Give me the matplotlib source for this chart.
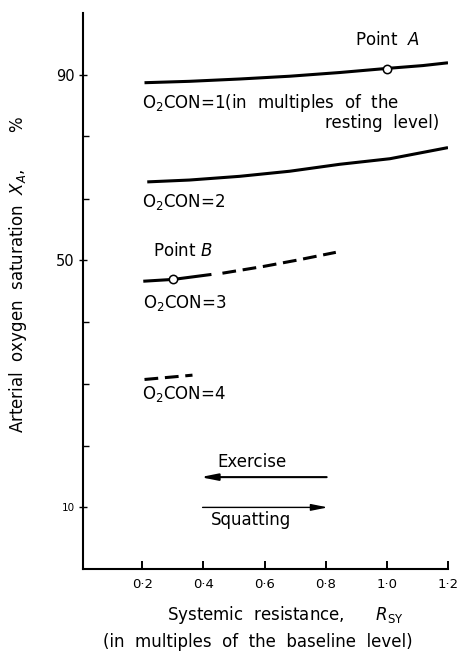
import matplotlib
matplotlib.use("Agg")
import matplotlib.pyplot as plt
import numpy as np

# curves: x = systemic resistance, y = arterial O2 saturation (%)
con1_x = [0.207, 0.354, 0.518, 0.682, 0.846, 1.003, 1.118, 1.2]
con1_y = [88.3, 88.6, 89.1, 89.7, 90.5, 91.4, 92.0, 92.6]
con2_x = [0.216, 0.354, 0.518, 0.682, 0.846, 1.01, 1.2]
con2_y = [66.9, 67.3, 68.1, 69.2, 70.7, 71.9, 74.3]
con3_solid_x = [0.203, 0.302, 0.426]
con3_solid_y = [46.6, 46.9, 47.7]
con3_dash_x = [0.462, 0.597, 0.705, 0.833]
con3_dash_y = [47.9, 49.0, 50.0, 51.7]
con4_x = [0.207, 0.364]
con4_y = [30.7, 31.4]
point_a = (1.0, 91.3)
point_b = (0.30, 46.9)

x_ticks = [0.2, 0.4, 0.6, 0.8, 1.0, 1.2]
x_tick_labels = ["0·2", "0·4", "0·6", "0·8", "1·0", "1·2"]
y_major = [10, 50, 90]
y_minor = [20, 30, 40, 63.3, 76.7]


# the printed axis is not linear: 10 units per tick below 50, 40/3 above
def _fwd(v):
    v = np.asarray(v, dtype=float)
    return np.where(v <= 50, v / 10.0, 5 + (v - 50) * 3.0 / 40.0)


def _inv(p):
    p = np.asarray(p, dtype=float)
    return np.where(p <= 5, p * 10.0, 50 + (p - 5) * 40.0 / 3.0)


fig = plt.figure(figsize=(4.59, 6.52), dpi=100)
ax = fig.add_axes([0.181, 0.127, 0.795, 0.853])
ax.set_yscale("function", functions=(_fwd, _inv))

line_kw = dict(color="black", linewidth=2.2, solid_capstyle="butt")
ax.plot(con1_x, con1_y, **line_kw)
ax.plot(con2_x, con2_y, **line_kw)
ax.plot(con3_solid_x, con3_solid_y, **line_kw)
ax.plot(con3_dash_x, con3_dash_y, linestyle=(0, (4.5, 2.2)), **line_kw)
ax.plot(con4_x, con4_y, linestyle=(0, (4.5, 2.2)), **line_kw)

for px, py in (point_a, point_b):
    ax.plot([px], [py], "o", ms=6, mfc="white", mec="black", mew=1.1, zorder=4)

fs = 12
ax.text(0.895, 97.5, "Point  $A$", fontsize=fs, va="center", ha="left")
ax.text(0.198, 83.9, "O$_2$CON=1(in  multiples  of  the", fontsize=fs, va="center")
ax.text(1.17, 79.5, "resting  level)", fontsize=fs, va="center", ha="right")
ax.text(0.198, 62.5, "O$_2$CON=2", fontsize=fs, va="center")
ax.text(0.236, 52.0, "Point $B$", fontsize=fs, va="center")
ax.text(0.203, 43.0, "O$_2$CON=3", fontsize=fs, va="center")
ax.text(0.198, 28.3, "O$_2$CON=4", fontsize=fs, va="center")

ax.text(0.56, 17.3, "Exercise", fontsize=fs, ha="center", va="center")
ax.text(0.554, 7.9, "Squatting", fontsize=fs, ha="center", va="center")
arrow_kw = dict(arrowstyle="-|>,head_length=1.0,head_width=0.2",
                color="black", mutation_scale=10, shrinkA=0, shrinkB=0)
ax.annotate("", xy=(0.39, 14.9), xytext=(0.803, 14.9),
            arrowprops=dict(arrow_kw, lw=1.5))
ax.annotate("", xy=(0.807, 10.0), xytext=(0.397, 10.0),
            arrowprops=dict(arrow_kw, lw=1.0))

ax.set_xlim(0.006, 1.2)
ax.set_ylim(0, float(_inv(9.0)))

ax.set_xticks(x_ticks)
ax.set_xticklabels(x_tick_labels, fontsize=9.5)
ax.set_yticks(y_major)
ax.set_yticklabels(["10", "50", "90"], fontsize=10.5)
ax.get_yticklabels()[0].set_fontsize(7.5)
ax.set_yticks(y_minor, minor=True)
ax.tick_params(axis="x", direction="in", length=6, width=1.4, pad=6)
ax.tick_params(axis="y", which="major", direction="inout", length=6, width=1.0, pad=3)
ax.tick_params(axis="y", which="minor", direction="in", length=4, width=1.0)

ax.spines[["top", "right"]].set_visible(False)
ax.spines[["left", "bottom"]].set_linewidth(1.5)

fig.text(0.04, 0.58, "Arterial  oxygen  saturation  $X_A$,       %", rotation=90,
         fontsize=12, ha="center", va="center")
fig.text(0.622, 0.057, "Systemic  resistance,      $R_{\\rm SY}$", fontsize=12,
         ha="center", va="center")
fig.text(0.562, 0.015, "(in  multiples  of  the  baseline  level)", fontsize=12,
         ha="center", va="center")

fig.savefig("out.png", dpi=100, facecolor="white")
